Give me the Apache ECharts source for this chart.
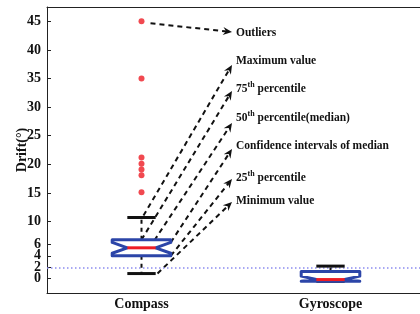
<!DOCTYPE html>
<html>
<head>
<meta charset="utf-8">
<script src="https://cdn.jsdelivr.net/npm/echarts@6/dist/echarts.min.js"></script>
<style>
html,body{margin:0;padding:0;background:#fff;}
#main{width:420px;height:314px;}
</style>
</head>
<body>
<div id="main"></div>
<script>
// ---- data ----
const categories = ['Compass', 'Gyroscope'];
const boxMin = [0.9, -0.45];
const boxQ1 = [4.0, -0.45];
const boxMedian = [5.4, -0.15];
const boxQ3 = [6.8, 1.25];
const boxMax = [10.7, 2.2];
const notchLow = [4.45, -0.45];
const notchHigh = [6.35, 0.45];
const outlierValues = [45, 35, 21.2, 20.1, 19.1, 18.1, 15.1];
const yTickValues = [0, 2, 4, 6, 10, 15, 20, 25, 30, 35, 40, 45];
const referenceLevel = 2;
const annotationLabels = [
  ['Outliers'],
  ['Maximum value'],
  ['75', 'th', ' percentile'],
  ['50', 'th', ' percentile(median)'],
  ['Confidence intervals of median'],
  ['25', 'th', ' percentile'],
  ['Minimum value']
];

const FONT = '"Liberation Serif", "Times New Roman", serif';
const BLUE = '#2c45a8';
const RED = '#ee1c24';

const boxData = categories.map((c, i) => [i, boxMin[i], boxQ1[i], boxMedian[i], boxQ3[i], boxMax[i], notchLow[i], notchHigh[i]]);
// labels are split over two overlaid axes so the crowded low ticks are not thinned out
const yLabelsB = [yTickValues[0], yTickValues[2]];
const yLabelsA = yTickValues.filter(v => yLabelsB.indexOf(v) < 0);

function renderBox(params, api) {
  const idx = api.value(0);
  const mn = api.value(1), q1 = api.value(2), md = api.value(3), q3 = api.value(4), mx = api.value(5), nl = api.value(6), nh = api.value(7);
  const band = api.size([1, 0])[0];
  const cx = api.coord([idx, md])[0];
  const Y = v => api.coord([idx, v])[1];
  const half = band * 0.155;
  const capHalf = band * 0.075;
  const notchHalf = band * 0.075;
  const L = cx - half, R = cx + half;
  const children = [];
  children.push({type: 'line', shape: {x1: cx, y1: Y(q3), x2: cx, y2: Y(mx)}, style: {stroke: '#111', lineWidth: 2, lineDash: [4, 4]}});
  children.push({type: 'line', shape: {x1: cx, y1: Y(q1), x2: cx, y2: Y(mn)}, style: {stroke: '#111', lineWidth: 2, lineDash: [4, 4]}});
  children.push({type: 'line', shape: {x1: cx - capHalf, y1: Y(mx), x2: cx + capHalf, y2: Y(mx)}, style: {stroke: '#111', lineWidth: 3}});
  children.push({type: 'line', shape: {x1: cx - capHalf, y1: Y(mn), x2: cx + capHalf, y2: Y(mn)}, style: {stroke: '#111', lineWidth: 3}});
  const pts = [
    [L, Y(q3)], [R, Y(q3)], [R, Y(nh)], [cx + notchHalf, Y(md)], [R, Y(nl)], [R, Y(q1)],
    [L, Y(q1)], [L, Y(nl)], [cx - notchHalf, Y(md)], [L, Y(nh)]
  ];
  children.push({type: 'polygon', shape: {points: pts}, style: {fill: '#fff', stroke: BLUE, lineWidth: 3, lineJoin: 'round'}});
  children.push({type: 'line', shape: {x1: cx - notchHalf, y1: Y(md), x2: cx + notchHalf, y2: Y(md)}, style: {stroke: RED, lineWidth: 3}});
  return {type: 'group', children};
}

const yLabelStyle = {fontFamily: FONT, fontWeight: 'bold', fontSize: 14, color: '#111', margin: 6, showMinLabel: true, showMaxLabel: true};

const chart = echarts.init(document.getElementById('main'), null, {renderer: 'canvas'});
const option = {
  animation: false,
  backgroundColor: '#fff',
  grid: {left: 47, top: 7, width: 378, height: 286, outerBoundsMode: 'none', containLabel: false},
  xAxis: [{
    type: 'category', data: categories, position: 'bottom',
    axisLine: {onZero: false, lineStyle: {color: '#222', width: 1}},
    axisTick: {inside: true, alignWithLabel: true, length: 4, lineStyle: {color: '#222'}},
    axisLabel: {fontFamily: FONT, fontWeight: 'bold', fontSize: 14, color: '#111', margin: 4},
    splitLine: {show: false}
  }, {
    type: 'category', data: categories, position: 'top',
    axisLine: {onZero: false, lineStyle: {color: '#222', width: 1}},
    axisTick: {inside: true, alignWithLabel: true, length: 4, lineStyle: {color: '#222'}},
    axisLabel: {show: false},
    splitLine: {show: false}
  }],
  yAxis: [{
    type: 'value', min: -2.5, max: 47.5, position: 'left',
    name: 'Drift(°)', nameLocation: 'middle', nameGap: 18, nameRotate: 90, nameMoveOverlap: false,
    nameTextStyle: {fontFamily: FONT, fontWeight: 'bold', fontSize: 14, color: '#111'},
    axisLine: {show: true, onZero: false, lineStyle: {color: '#222', width: 1}},
    axisTick: {show: true, inside: true, length: 4, customValues: yTickValues, lineStyle: {color: '#222'}},
    axisLabel: Object.assign({customValues: yLabelsA}, yLabelStyle),
    splitLine: {show: false}
  }, {
    type: 'value', min: -2.5, max: 47.5, position: 'left', offset: 0,
    axisLine: {show: false, onZero: false},
    axisTick: {show: false},
    axisLabel: Object.assign({customValues: yLabelsB}, yLabelStyle),
    splitLine: {show: false}
  }],
  series: [{
    type: 'custom', name: 'box', renderItem: renderBox, data: boxData,
    encode: {x: 0, y: [1, 2, 3, 4, 5]}, z: 5, silent: true
  }, {
    type: 'scatter', name: 'outliers', symbol: 'circle', symbolSize: 6,
    itemStyle: {color: RED},
    data: outlierValues.map(v => [categories[0], v]), z: 6,
    markLine: {
      silent: true, symbol: 'none', label: {show: false},
      lineStyle: {type: [1.5, 2.5], color: '#8c8cf0', width: 1.5, opacity: 1},
      emphasis: {disabled: true},
      data: [{yAxis: referenceLevel}]
    }
  }]
};
chart.setOption(option);

// ---- annotations (arrows from box features to labels) ----
function px(cat, v) { return chart.convertToPixel({xAxisIndex: 0, yAxisIndex: 0}, [cat, v]); }
const c0 = categories[0];
const band = chart.convertToPixel({xAxisIndex: 0}, categories[1]) - chart.convertToPixel({xAxisIndex: 0}, categories[0]);
const boxHalf = band * 0.155;
const starts = [
  (p => [p[0] + 9, p[1] + 2])(px(c0, outlierValues[0])),
  (p => [p[0] + 2, p[1] - 2])(px(c0, boxMax[0])),
  px(c0, boxQ3[0]),
  (p => [p[0] + 8, p[1]])(px(c0, boxMedian[0])),
  (p => [p[0] + boxHalf, p[1]])(px(c0, notchHigh[0])),
  (p => [p[0] + boxHalf, p[1]])(px(c0, boxQ1[0])),
  (p => [p[0] + 16, p[1]])(px(c0, boxMin[0]))
];
const textX = 236;
const textY = [32, 60, 88, 117, 145, 177, 200];
const tipY = [32, 65, 91, 123, 149, 179, 202];
const tipX = 232;
const gElems = [];
annotationLabels.forEach((lab, i) => {
  const s = starts[i];
  const tx = tipX, ty = tipY[i];
  const dx = tx - s[0], dy = ty - s[1];
  const len = Math.hypot(dx, dy);
  const ux = dx / len, uy = dy / len;
  const hl = 9, hw = 4;
  const bx = tx - ux * hl, by = ty - uy * hl;
  const nx = -uy, ny = ux;
  gElems.push({type: 'line', z: 1, silent: true,
    shape: {x1: s[0], y1: s[1], x2: tx - ux * 5, y2: ty - uy * 5},
    style: {stroke: '#111', lineWidth: 2, lineDash: [5, 4]}});
  gElems.push({type: 'polygon', z: 1, silent: true,
    shape: {points: [[tx, ty], [bx + nx * hw, by + ny * hw], [tx - ux * 6, ty - uy * 6], [bx - nx * hw, by - ny * hw]]},
    style: {fill: '#111'}});
  let text;
  if (lab.length === 1) text = '{m|' + lab[0] + '}';
  else text = '{m|' + lab[0] + '}{s|' + lab[1] + '}{m|' + lab[2] + '}';
  gElems.push({type: 'text', z: 1, silent: true, x: textX, y: textY[i],
    style: {text: text, verticalAlign: 'middle', align: 'left',
      rich: {
        m: {fontFamily: FONT, fontWeight: 'bold', fontSize: 11.5, fill: '#111', lineHeight: 14, verticalAlign: 'bottom'},
        s: {fontFamily: FONT, fontWeight: 'bold', fontSize: 8, fill: '#111', lineHeight: 14, verticalAlign: 'top'}
      }}});
});
chart.setOption({graphic: {elements: gElems}});
</script>
</body>
</html>
